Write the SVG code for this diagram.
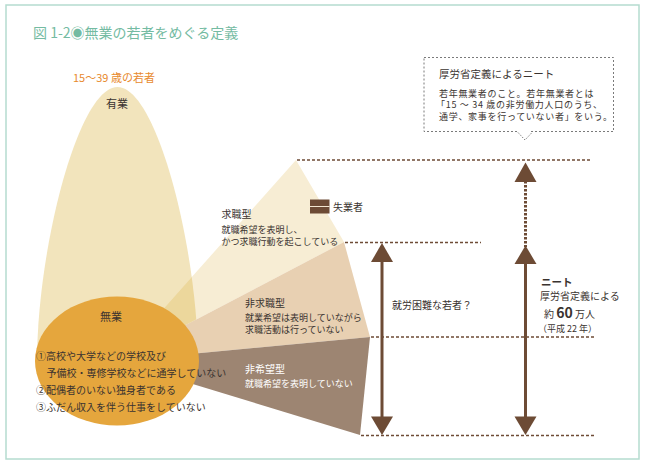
<svg xmlns="http://www.w3.org/2000/svg" width="645" height="464" viewBox="0 0 645 464">
<style>
text{font-family:"Noto Sans CJK JP","Noto Sans",sans-serif;fill:#3a3330}
.t{font-size:10px}
.s{font-size:9px}
.b{font-weight:bold}
.w{fill:#ffffff}
.bx{font-size:9px;letter-spacing:0.7px}
.dl{stroke:#6e4b36;stroke-width:1.5;stroke-dasharray:3 2;fill:none}
.ar{fill:#6d4b35}
</style>
<defs>
<path id="tallShape" d="M37,362 C37,250 78,87 117.5,87 C157,87 198,250 198,362 Z"/>
<clipPath id="tallClip"><use href="#tallShape"/></clipPath>
</defs>
<rect x="6" y="5" width="633" height="454" fill="#ffffff" stroke="#b5dccf" stroke-width="1.5"/>
<text x="33" y="38" font-size="14" style="fill:#74bba2">図 1-2◉無業の若者をめぐる定義</text>
<g id="youth">
<use href="#tallShape" fill="#f2e4bc"/>
<text x="73" y="82" font-size="11" style="fill:#e88a2e">15～39 歳の若者</text>
<text x="106" y="108" font-size="11">有業</text>
</g>
<g id="wedges">
<polygon id="seeking" points="117,361 296,160 344,242" fill="#f7edd4"/>
<polygon points="117,361 296,160 344,242" fill="#ecd79c" clip-path="url(#tallClip)"/>
<polygon id="nonseeking" points="117,361 344,242 370,337" fill="#e8d0b2"/>
<polygon id="nonhope" points="117,361 370,337 360,435" fill="#9d8572"/>
</g>
<g id="mugyo">
<ellipse cx="117" cy="361" rx="82" ry="64.5" fill="#e5a63d"/>
<text x="100" y="321" font-size="11">無業</text>
<text x="36" y="360" class="t">①高校や大学などの学校及び</text>
<text x="46.5" y="377" class="t">予備校・専修学校などに通学していない</text>
<text x="36" y="393.5" class="t">②配偶者のいない独身者である</text>
<text x="36" y="410.5" class="t">③ふだん収入を伴う仕事をしていない</text>
</g>
<g id="seeking-label">
<text x="221.5" y="218" class="t">求職型</text>
<text x="221.5" y="233" class="s">就職希望を表明し、</text>
<text x="221.5" y="244.5" class="s">かつ求職行動を起こしている</text>
</g>
<g id="nonseeking-label">
<text x="245" y="307" class="t">非求職型</text>
<text x="245" y="321" class="s">就業希望は表明していながら</text>
<text x="245" y="332.5" class="s">求職活動は行っていない</text>
</g>
<g id="nonhope-label">
<text x="245" y="373" class="t w">非希望型</text>
<text x="245" y="386.5" class="s w">就職希望を表明していない</text>
</g>
<g id="legend">
<rect x="310" y="199.5" width="19.5" height="14" fill="#6d4b35"/>
<line x1="310" y1="206.5" x2="329.5" y2="206.5" stroke="#f3e6d0" stroke-width="1"/>
<text x="333" y="211" class="t">失業者</text>
</g>
<g id="neet-box">
<rect x="424" y="57.5" width="189.5" height="74" fill="#ffffff" stroke="#7a7a7a" stroke-width="1" stroke-dasharray="2 2"/>
<polyline points="518,132.5 525,140 532,132.5" fill="none" stroke="#7a7a7a" stroke-width="1" stroke-dasharray="1.5 1.5"/>
<line x1="519" y1="131.5" x2="531" y2="131.5" stroke="#ffffff" stroke-width="1.5"/>
<text x="439" y="78" font-size="10.5">厚労省定義によるニート</text>
<text x="439" y="96.5" class="bx">若年無業者のこと。若年無業者とは</text>
<text x="436" y="108" class="bx">「15 ～ 34 歳の非労働力人口のうち、</text>
<text x="439" y="119.5" class="bx">通学、家事を行っていない者」をいう。</text>
</g>
<g id="connectors">
<line class="dl" x1="297" y1="160" x2="591" y2="160"/>
<line class="dl" x1="345" y1="242.5" x2="481" y2="242.5"/>
<line class="dl" x1="371" y1="337" x2="595" y2="337"/>
<line class="dl" x1="361" y1="435.5" x2="595" y2="435.5"/>
<line x1="382" y1="260" x2="382" y2="419" stroke="#6d4b35" stroke-width="3"/>
<polygon class="ar" points="382,243 393,262 371,262"/>
<polygon class="ar" points="382,435 393,416.5 371,416.5"/>
<line x1="525.5" y1="181" x2="525.5" y2="247" stroke="#6d4b35" stroke-width="3" stroke-dasharray="2.5 1.5"/>
<polygon class="ar" points="525.5,162.5 536.5,182 514.5,182"/>
<polygon class="ar" points="525.5,245.5 536.5,264 514.5,264"/>
<line x1="525.5" y1="262" x2="525.5" y2="419" stroke="#6d4b35" stroke-width="3"/>
<polygon class="ar" points="525.5,435 536.5,416.5 514.5,416.5"/>
</g>
<g id="labels">
<text x="392" y="309" class="t">就労困難な若者？</text>
<text x="541" y="286" font-size="10.5" class="b">ニート</text>
<text x="540" y="299.5" class="t">厚労省定義による</text>
<text x="544" y="317.5" class="t">約 <tspan font-size="14" font-weight="bold">60</tspan> 万人</text>
<text x="538" y="331.5" class="s" font-size="9.5">（平成 22 年）</text>
</g>
</svg>
